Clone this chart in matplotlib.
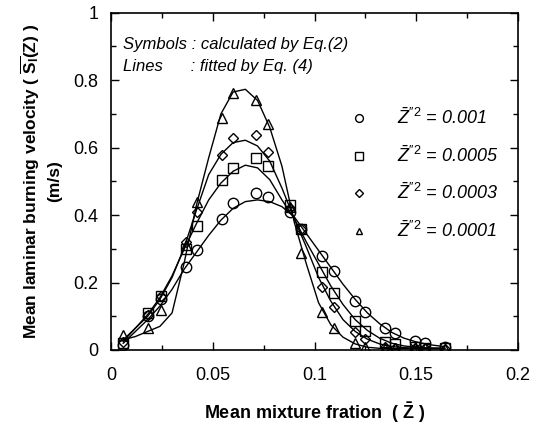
import matplotlib
matplotlib.use('Agg')
import matplotlib.pyplot as plt
from matplotlib.ticker import MultipleLocator

plt.rcParams['font.family'] = ['Liberation Sans', 'DejaVu Sans']
plt.rcParams['mathtext.fontset'] = 'custom'
plt.rcParams['mathtext.rm'] = 'Liberation Sans'
plt.rcParams['mathtext.it'] = 'Liberation Sans:italic'
plt.rcParams['mathtext.bf'] = 'Liberation Sans:bold'

# ----------------------------
# Data
# ----------------------------
# mean mixture fraction where Eq.(2) was evaluated
mix_frac = [0.0061, 0.0183, 0.0245, 0.0368, 0.0424, 0.0543, 0.0601, 0.0712, 0.0772, 0.0879,
            0.0933, 0.1039, 0.1097, 0.1198, 0.1247, 0.1345, 0.1394, 0.1493, 0.1542, 0.1640]

sl_001 = [0.015, 0.100, 0.150, 0.247, 0.296, 0.388, 0.435, 0.466, 0.455, 0.410,
          0.360, 0.279, 0.234, 0.146, 0.114, 0.066, 0.049, 0.028, 0.022, 0.010]
sl_0005 = [0.020, 0.109, 0.161, 0.300, 0.369, 0.504, 0.540, 0.570, 0.546, 0.430,
           0.360, 0.232, 0.168, 0.087, 0.056, 0.023, 0.017, 0.008, 0.006, 0.005]
sl_0003 = [0.025, 0.105, 0.160, 0.320, 0.410, 0.578, 0.630, 0.637, 0.586, 0.420,
           0.360, 0.186, 0.126, 0.052, 0.032, 0.010, 0.006, 0.005, 0.005, 0.004]
sl_0001 = [0.044, 0.066, 0.119, 0.310, 0.440, 0.687, 0.761, 0.741, 0.669, 0.425,
           0.287, 0.114, 0.064, 0.020, 0.010, 0.006, 0.005, 0.005, 0.005, 0.004]

# fitted curves, Eq. (4)
fit_x = [0.006, 0.012, 0.018, 0.024, 0.030, 0.036, 0.042, 0.048, 0.054, 0.060, 0.066, 0.072, 0.078, 0.084,
         0.090, 0.096, 0.102, 0.108, 0.114, 0.120, 0.126, 0.132, 0.138, 0.144, 0.150, 0.156, 0.164]
fit_001 = [0.020, 0.055, 0.090, 0.130, 0.180, 0.240, 0.290, 0.340, 0.385, 0.420, 0.440, 0.445, 0.440, 0.425,
           0.395, 0.345, 0.295, 0.245, 0.195, 0.150, 0.110, 0.078, 0.052, 0.035, 0.024, 0.016, 0.010]
fit_0005 = [0.025, 0.065, 0.105, 0.155, 0.220, 0.300, 0.375, 0.445, 0.495, 0.530, 0.548, 0.540, 0.505, 0.445,
            0.390, 0.320, 0.255, 0.190, 0.135, 0.090, 0.058, 0.035, 0.020, 0.012, 0.008, 0.006, 0.005]
fit_0003 = [0.030, 0.065, 0.100, 0.150, 0.215, 0.305, 0.415, 0.520, 0.580, 0.615, 0.622, 0.605, 0.560, 0.480,
            0.390, 0.305, 0.215, 0.145, 0.090, 0.055, 0.032, 0.018, 0.010, 0.007, 0.005, 0.005, 0.005]
fit_0001 = [0.030, 0.040, 0.055, 0.070, 0.110, 0.260, 0.430, 0.570, 0.700, 0.765, 0.773, 0.740, 0.660, 0.545,
            0.380, 0.255, 0.140, 0.075, 0.038, 0.018, 0.008, 0.005, 0.004, 0.004, 0.004, 0.004, 0.004]

labels = [r"$\bar{Z}^{\prime\prime 2}$ = 0.001", r"$\bar{Z}^{\prime\prime 2}$ = 0.0005",
          r"$\bar{Z}^{\prime\prime 2}$ = 0.0003", r"$\bar{Z}^{\prime\prime 2}$ = 0.0001"]

# ----------------------------
# Plot
# ----------------------------
fig = plt.figure(figsize=(5.39, 4.25), dpi=100)
ax = fig.add_axes([0.206, 0.1765, 0.755, 0.7935])

series = [(sl_001, fit_001, 'o', 7.5), (sl_0005, fit_0005, 's', 7),
          (sl_0003, fit_0003, 'D', 5), (sl_0001, fit_0001, '^', 6.5)]
handles = []
for ys, fit, mk, ms in series:
    ax.plot(fit_x, fit, color='black', lw=1.0)
    h, = ax.plot(mix_frac, ys, linestyle='none', marker=mk, markersize=ms,
                 markerfacecolor='none', markeredgecolor='black', markeredgewidth=1.0)
    handles.append(h)

ax.legend(handles, labels, loc='upper left', bbox_to_anchor=(0.565, 0.745), frameon=False,
          prop={'style': 'italic', 'size': 13}, markerscale=0.75, handlelength=1.0,
          handletextpad=1.6, labelspacing=0.95, borderpad=0)

ax.text(0.03, 0.905, "Symbols : calculated by Eq.(2)", transform=ax.transAxes,
        fontsize=12, style='italic', va='center')
ax.text(0.03, 0.84, "Lines      : fitted by Eq. (4)", transform=ax.transAxes,
        fontsize=12, style='italic', va='center')

ax.set_xlim(0, 0.2)
ax.set_ylim(0, 1)
ax.xaxis.set_major_locator(MultipleLocator(0.05))
ax.xaxis.set_minor_locator(MultipleLocator(0.025))
ax.yaxis.set_major_locator(MultipleLocator(0.2))
ax.yaxis.set_minor_locator(MultipleLocator(0.1))
ax.set_xticks([0, 0.05, 0.1, 0.15, 0.2], ['0', '0.05', '0.1', '0.15', '0.2'])
ax.set_yticks([0, 0.2, 0.4, 0.6, 0.8, 1], ['0', '0.2', '0.4', '0.6', '0.8', '1'])
ax.tick_params(which='both', direction='in', top=True, right=True, labelsize=13, width=1.0)
ax.tick_params(axis='x', which='major', length=6, pad=12)
ax.tick_params(axis='y', which='major', length=6, pad=9)
ax.tick_params(which='minor', length=3.5)
for sp in ax.spines.values():
    sp.set_linewidth(1.2)

ax.set_xlabel(r"Mean mixture fration  ( $\mathbf{\bar{Z}}$ )", fontsize=13,
              fontweight='bold', labelpad=12)
ax.set_ylabel("Mean laminar burning velocity ( $\\overline{\\mathbf{S_l}}\\mathbf{(Z)}$ )\n(m/s)",
              fontsize=12.5, fontweight='bold', labelpad=8, linespacing=1.4)

fig.savefig('out.png', dpi=100)
